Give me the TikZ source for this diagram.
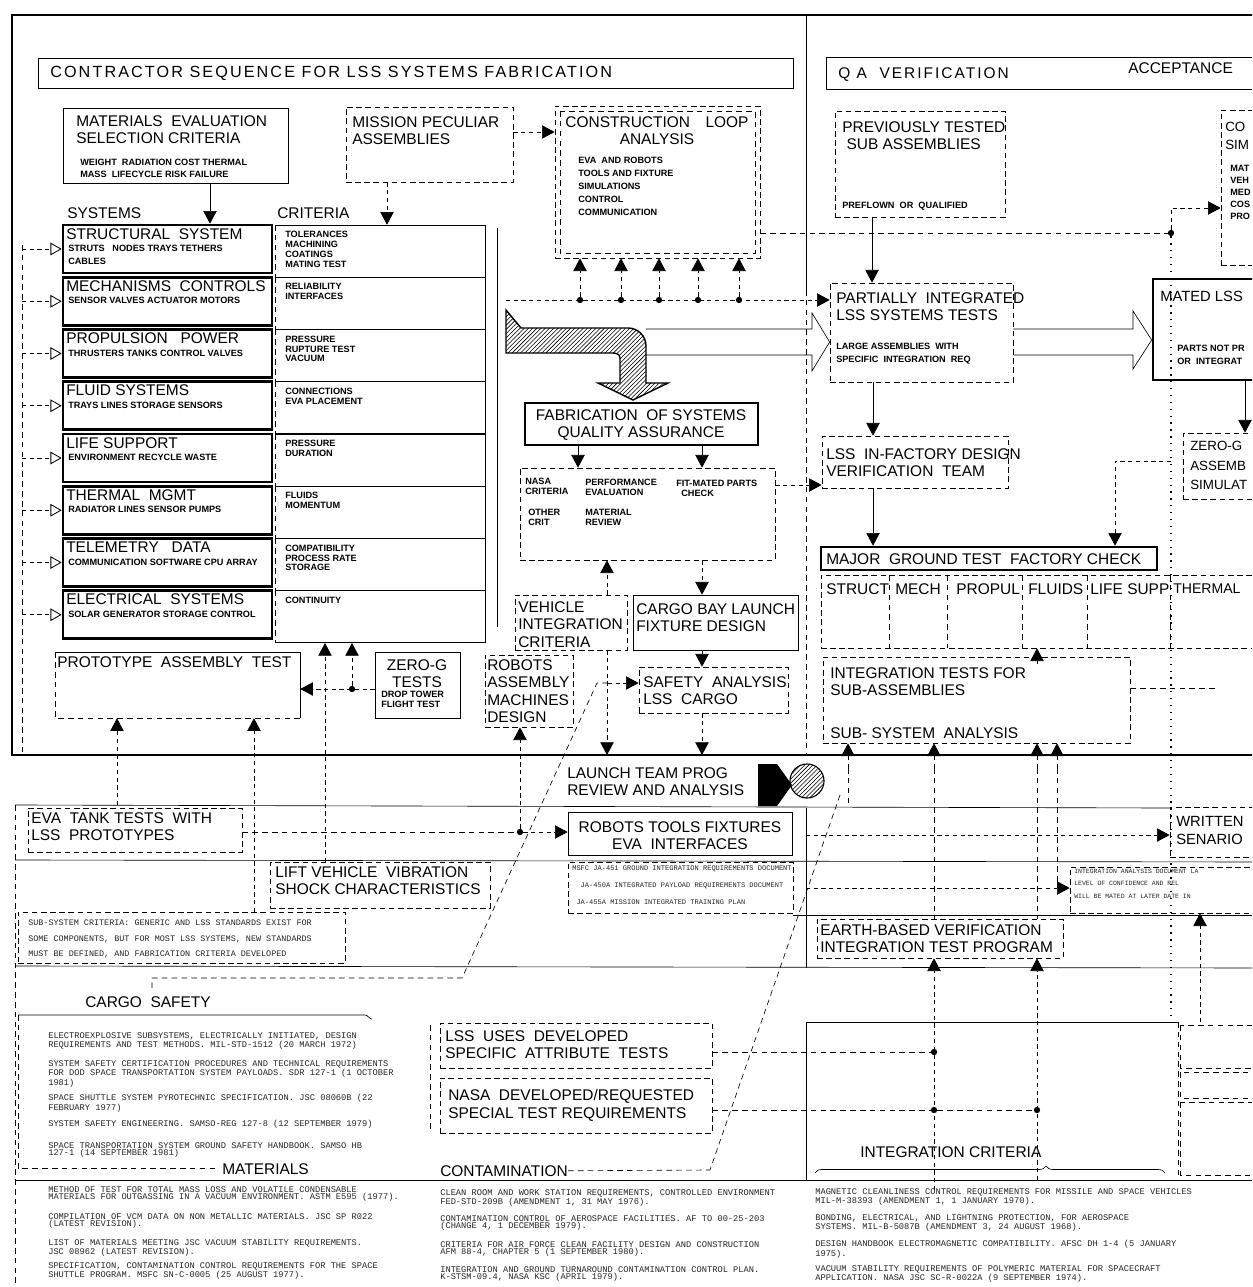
\documentclass[tikz,border=0pt]{standalone}
\usepackage{fontspec}
\setmainfont{Liberation Sans}
\setmonofont{Liberation Mono}
\newfontfamily\widefont[LetterSpace=13]{Liberation Sans}
\usetikzlibrary{arrows.meta,fit,patterns,decorations.pathreplacing,positioning}

\newcommand{\bigfont}{\fontsize{11}{12.5}\selectfont}
\newcommand{\smallfont}{\fontsize{6.5}{7.3}\selectfont\bfseries}
\newcommand{\reffont}{\ttfamily\fontsize{6.2}{5}\selectfont}
% box from two corners, as a named node
\newcommand{\rbox}[6]{%
  \coordinate (#2-a) at (#3,#4);
  \coordinate (#2-b) at (#5,#6);
  \node[#1, fit=(#2-a)(#2-b), inner sep=0pt] (#2) {};}

\tikzset{
  frameline/.style={line width=2pt},
  thinline/.style={line width=0.45pt},
  dashline/.style={line width=0.45pt, dash pattern=on 4pt off 3pt},
  dotline/.style={line width=0.9pt, dash pattern=on 0.9pt off 4pt},
  nobox/.style={},
  plainbox/.style={draw, line width=0.5pt},
  dashbox/.style={draw, line width=0.5pt, dash pattern=on 4pt off 2.5pt},
  heavybox/.style={draw, line width=1.9pt},
  arr/.style={-{Triangle[length=9pt,width=9.5pt]}, line width=0.5pt},
  darr/.style={arr, dash pattern=on 3pt off 2.5pt},
  oarr/.style={-{Triangle[open,length=8pt,width=9pt,line width=0.6pt]}, line width=0.5pt, dash pattern=on 3pt off 2.5pt},
  big/.style={font=\bigfont, inner sep=0pt, anchor=north west, align=left},
  bigc/.style={big, anchor=north, align=center},
  sml/.style={font=\smallfont, inner sep=0pt, anchor=north west, align=left},
  reftxt/.style={font=\reffont, inner sep=0pt, anchor=north west, align=left, text=black!85},
  jdot/.style={circle, fill, inner sep=0pt, minimum size=4.5pt},
}

\begin{document}
\begin{tikzpicture}[x=0.025cm,y=-0.025cm]
\fill[white] (0,0) rectangle (1252,1287);
\useasboundingbox (0,0) rectangle (1252,1287);
\clip (0,0) rectangle (1252,1287);

% frame of the upper panel
\draw[frameline] (12,15) -- (1262,15);
\draw[frameline] (12,14) -- (12,755) -- (1262,755);
\draw[thinline] (806,15) -- (806,290);
\draw[dashline] (806,290) -- (806,755);

% headers
\rbox{plainbox}{hdrL}{38}{58}{793}{88}
\node[big, font=\widefont\fontsize{11.5}{12.5}\selectfont] (hdrLT) at (50,66) {CONTRACTOR SEQUENCE FOR LSS SYSTEMS FABRICATION};
\rbox{plainbox}{hdrR}{826}{57}{1262}{89}
\node[big, font=\widefont\fontsize{11}{12.5}\selectfont] (hdrRT) at (838,67) {Q A\ \ VERIFICATION};
\node[big] (accT) at (1128,62) {ACCEPTANCE};

% materials and mission boxes
\rbox{plainbox}{matbox}{63}{108}{288}{183}
\node[big] (matT) at (76,115) {MATERIALS\ \ EVALUATION\\SELECTION CRITERIA};
\node[sml, font=\fontsize{6.5}{8.5}\selectfont\bfseries] (matS) at (80,159) {WEIGHT\ \ RADIATION COST THERMAL\\MASS\ \ LIFECYCLE RISK FAILURE};
\rbox{dashbox}{misbox}{346}{107}{513}{182}
\node[big] (misT) at (352,116) {MISSION PECULIAR\\ASSEMBLIES};

% construction loop
\rbox{dashbox}{loopbox}{555}{106}{760}{258}
\draw[dashline] (560,111) rectangle (755,253);
\node[bigc] (loopT) at (657,116) {CONSTRUCTION\quad LOOP\\ANALYSIS};
\node[sml, font=\fontsize{6.5}{9.2}\selectfont\bfseries] (loopS) at (578,157) {EVA\ \ AND ROBOTS\\TOOLS AND FIXTURE\\SIMULATIONS\\CONTROL\\COMMUNICATION};
\draw[darr] (misbox.east |- 0,132) -- (loopbox.west |- 0,132);
\coordinate (loopfeed) at (506,300);
\foreach \xx in {580,621,659,698,739} {
  \node[jdot] (ld\xx) at (\xx,300) {};
  \draw[darr] (ld\xx) -- (loopbox.south -| ld\xx);
}

% systems and criteria
\node[big] (sysH) at (67,207) {SYSTEMS};
\node[big] (critH) at (277,207) {CRITERIA};
\foreach \i/\ttl/\sub/\crit in {
  1/{STRUCTURAL\ \ SYSTEM}/{STRUTS\ \ \ NODES TRAYS TETHERS\\CABLES}/{TOLERANCES\\MACHINING\\COATINGS\\MATING TEST},
  2/{MECHANISMS\ \ CONTROLS}/{SENSOR VALVES ACTUATOR MOTORS}/{RELIABILITY\\INTERFACES},
  3/{PROPULSION\ \ \ POWER}/{THRUSTERS TANKS CONTROL VALVES}/{PRESSURE\\RUPTURE TEST\\VACUUM},
  4/{FLUID SYSTEMS}/{TRAYS LINES STORAGE SENSORS}/{CONNECTIONS\\EVA PLACEMENT},
  5/{LIFE SUPPORT}/{ENVIRONMENT RECYCLE WASTE}/{PRESSURE\\DURATION},
  6/{THERMAL\ \ MGMT}/{RADIATOR LINES SENSOR PUMPS}/{FLUIDS\\MOMENTUM},
  7/{TELEMETRY\ \ \ DATA}/{COMMUNICATION SOFTWARE CPU ARRAY}/{COMPATIBILITY\\PROCESS RATE\\STORAGE},
  8/{ELECTRICAL\ \ SYSTEMS}/{SOLAR GENERATOR STORAGE CONTROL}/{CONTINUITY}}
{
  \pgfmathsetmacro\yt{225+52.25*(\i-1)}
  \pgfmathsetmacro\yb{\yt+48}
  \pgfmathsetmacro\yc{\yt+52}
  \pgfmathsetmacro\ya{\yt+24}
  \rbox{heavybox}{sys\i}{63}{\yt}{272}{\yb}
  \node[big] (sysT\i) at (66,\yt+3) {\ttl};
  \node[sml, font=\fontsize{6.5}{9}\selectfont\bfseries] (sysS\i) at (68,\yt+20) {\sub};
  \rbox{nobox}{crit\i}{275}{\yt}{485}{\yc}
  \draw[thinline] (275,\yt) -- (485,\yt) -- (485,\yc) -- (275,\yc);
  \draw[dashline] (275,\yt) -- (275,\yc);
  \node[sml, font=\fontsize{6.5}{7}\selectfont\bfseries] (critT\i) at (285,\yt+6) {\crit};
  \coordinate (feed\i) at (22,\ya);
  \draw[oarr] (feed\i) -- (sys\i.west |- feed\i);
}
\draw[dashline] (22,245) -- (22,752);
\draw[thinline] (497,228) -- (497,627);
\draw[arr] (matbox.south -| 210,0) -- (sys1.north -| 210,0);
\draw[darr] (misbox.south -| 387,0) -- (crit1.north -| 387,0);

% prototype and zero-g tests
\rbox{nobox}{protobox}{55}{652}{300}{718}
\draw[thinline] (55,652) -- (300,652) -- (300,718);
\draw[dashline] (300,718) -- (55,718) -- (55,652);
\node[big] (protoT) at (57,656) {PROTOTYPE\ \ ASSEMBLY\ \ TEST};
\rbox{plainbox}{zgbox}{375}{652}{460}{718}
\node[bigc] (zgT) at (417,659) {ZERO-G\\TESTS};
\node[sml] (zgS) at (381,691) {DROP TOWER\\FLIGHT TEST};
\node[jdot] (zgdot) at (352,689) {};
\draw[darr] (zgbox.west |- zgdot) -- (protobox.east |- zgdot);
\draw[darr] (zgdot) -- (crit8.south -| zgdot);
\coordinate (liftup) at (325,862);
\draw[darr] (liftup) -- (crit8.south -| liftup);
\coordinate (evaup) at (117,805);
\draw[darr] (evaup) -- (protobox.south -| evaup);
\coordinate (subup) at (254,912);
\draw[darr] (subup) -- (protobox.south -| subup);

% hatched arrow
\draw[line width=1pt, pattern=north east lines] (506,310) -- (521,328) -- (628,328) to[out=0,in=90] (646,346) -- (646,383) -- (668,383) -- (633,400) -- (598,383) -- (620,383) -- (620,358) to[out=90,in=0] (613,353) -- (506,353) -- cycle;

% fabrication
\rbox{heavybox}{fabbox}{525}{403}{758}{445}
\node[bigc] (fabT) at (641,409) {FABRICATION\ \ OF SYSTEMS\\QUALITY ASSURANCE};
\rbox{dashbox}{fabsub}{520}{468}{775}{560}
\draw[arr] (fabbox.south -| 578,0) -- (fabsub.north -| 578,0);
\draw[arr] (fabbox.south -| 702,0) -- (fabsub.north -| 702,0);
\node[sml] (fabA) at (525,478) {NASA\\CRITERIA};
\node[sml] (fabB) at (585,479) {PERFORMANCE\\EVALUATION};
\node[sml] (fabC) at (676,480) {FIT-MATED PARTS\\\ \ CHECK};
\node[sml] (fabD) at (528,509) {OTHER\\CRIT};
\node[sml] (fabE) at (585,509) {MATERIAL\\REVIEW};

\rbox{dashbox}{vehbox}{515}{595}{627}{650}
\node[big] (vehT) at (518,601) {VEHICLE\\INTEGRATION\\CRITERIA};
\rbox{plainbox}{cbbox}{633}{595}{798}{650}
\node[big] (cbT) at (636,603) {CARGO BAY LAUNCH\\FIXTURE DESIGN};
\rbox{dashbox}{safbox}{639}{667}{788}{713}
\node[big] (safT) at (643,676) {SAFETY\ \ ANALYSIS\\LSS\ \ CARGO};
\rbox{dashbox}{robbox}{485}{655}{573}{727}
\node[big] (robT) at (487,659) {ROBOTS\\ASSEMBLY\\MACHINES\\DESIGN};
\draw[darr] (vehbox.north -| 607,0) -- (fabsub.south -| 607,0);
\draw[darr] (fabsub.south -| 702,0) -- (cbbox.north -| 702,0);
\draw[arr] (cbbox.south -| 702,0) -- (safbox.north -| 702,0);
\coordinate (launchL) at (607,755);
\coordinate (launchR) at (702,755);
\draw[darr] (vehbox.south -| launchL) -- (launchL);
\draw[darr] (safbox.south -| launchR) -- (launchR);
\coordinate (safin) at (608,683);
\draw[darr] (safin) -- (safbox.west |- safin);
\coordinate (diagA) at (597,683);
\coordinate (diagB) at (462,978);
\coordinate (cargoK) at (152,978);
\draw[dashline] (safin) -- (diagA) -- (diagB) -- (cargoK) -- ++(0,12);

% QA verification side
\rbox{dashbox}{prevbox}{835}{111}{1005}{217}
\node[big] (prevT) at (842,121) {PREVIOUSLY TESTED\\\ SUB ASSEMBLIES};
\node[sml] (prevS) at (842,202) {PREFLOWN\ \ OR\ \ QUALIFIED};
\rbox{dashbox}{partbox}{830}{283}{1013}{382}
\node[big] (partT) at (836,292) {PARTIALLY\ \ INTEGRATED\\LSS SYSTEMS TESTS};
\node[sml, font=\fontsize{6.5}{9.2}\selectfont\bfseries] (partS) at (836,343) {LARGE ASSEMBLIES\ \ WITH\\SPECIFIC\ \ INTEGRATION\ \ REQ};
\draw[arr] (prevbox.south -| 872,0) -- (partbox.north -| 872,0);
\draw[darr] (loopfeed) -- (partbox.west |- loopfeed);
\rbox{dashbox}{cobox}{1221}{110}{1265}{265}
\node[big, font=\fontsize{9.5}{12.5}\selectfont] (coT) at (1225,122) {CO\\SIM};
\node[sml, font=\fontsize{6.5}{8.5}\selectfont\bfseries] (coS) at (1230,165) {MAT\\VEH\\MED\\COS\\PRO};
\node[jdot] (codot) at (1171,233) {};
\draw[dashline] (loopbox.east |- codot) -- (codot);
\draw[darr] (codot) -- (1171,208) -- (cobox.west |- 0,208);
\draw[dotline] (codot) -- (1171,1020);
\rbox{heavybox}{mated}{1153}{279}{1265}{380}
\node[big, font=\fontsize{10.5}{12}\selectfont] (matedT) at (1160,291) {MATED LSS};
\node[sml, font=\fontsize{6.5}{9}\selectfont\bfseries] (matedS) at (1177,345) {PARTS NOT PR\\OR\ \ INTEGRAT};
% outline arrows
\draw[thinline] (646,329) -- (812,329) -- (812,313) -- (partbox.west |- 0,342) -- (812,371) -- (812,355) -- (646,355);
\draw[thinline] (partbox.east |- 0,329) -- (1133,329) -- (1133,311) -- (mated.west |- 0,340) -- (1133,369) -- (1133,355) -- (partbox.east |- 0,355);

\rbox{dashbox}{zgabox}{1183}{433}{1265}{499}
\node[big, font=\fontsize{9.5}{14}\selectfont] (zgaT) at (1190,441) {ZERO-G\\ASSEMB\\SIMULAT};
\draw[arr] (mated.south -| 1245,0) -- (zgabox.north -| 1245,0);
\rbox{dashbox}{facbox}{822}{436}{1008}{488}
\node[big] (facT) at (826,448) {LSS\ \ IN-FACTORY DESIGN\\VERIFICATION\ \ TEAM};
\rbox{heavybox}{major}{821}{547}{1157}{570}
\node[big] (majorT) at (826,553) {MAJOR\ \ GROUND TEST\ \ FACTORY CHECK};
\draw[arr] (partbox.south -| 873,0) -- (facbox.north -| 873,0);
\draw[arr] (facbox.south -| 873,0) -- (major.north -| 873,0);
\draw[darr] (fabsub.east |- 0,485) -- (facbox.west |- 0,485);
\coordinate (majfeed) at (1171,461);
\draw[darr] (majfeed) -- (1115,461) -- (major.north -| 1115,0);

% sub-system columns
\rbox{dashbox}{cols}{821}{575}{1265}{648}
\foreach \xx in {889,947,1022,1087,1170} \draw[dashline] (\xx,575) -- (\xx,648);
\foreach \xx/\lab in {826/STRUCT, 895/MECH, 956/PROPUL, 1028/FLUIDS, 1090/LIFE SUPP}
  \node[big] (col\xx) at (\xx,583) {\lab};
\node[big, font=\fontsize{10}{12}\selectfont] (col1173) at (1173,584) {THERMAL};
\rbox{dashbox}{itbox}{823}{657}{1130}{743}
\node[big] (itT) at (830,667) {INTEGRATION TESTS FOR\\SUB-ASSEMBLIES};
\node[big] (itS) at (830,727) {SUB-\ SYSTEM\ \ ANALYSIS};
\coordinate (itup) at (1037,664);
\draw[arr] (itup) -- (cols.south -| itup);
\draw[dashline] (itbox.east |- 0,688) -- (1215,688);
\foreach \xx in {848,934,1037,1057} {
  \coordinate (fu\xx) at (\xx,768);
  \draw[darr] (fu\xx) -- (itbox.south -| fu\xx);
}

% launch team
\node[big] (launchT) at (567,767) {LAUNCH TEAM PROG\\REVIEW AND ANALYSIS};
\fill (758,764) -- (777,764) -- (792,785) -- (777,806) -- (758,806) -- cycle;
\node[circle, draw, line width=0.8pt, pattern=north east lines, minimum size=0.85cm, inner sep=0pt] (hcirc) at (807,781) {};

% lower grid
\draw[thinline] (15,805) -- (1170,808);
\draw[thinline] (15,860) -- (1262,862);
\draw[thinline] (793,915) -- (1262,915);
\draw[thinline] (15,966) -- (1262,968);
\draw[dashline] (15,805) -- (15,1287);
\draw[thinline] (806,808) -- (806,968);
\draw[thinline] (806,1022) -- (806,1180);
\draw[thinline] (806,1022) -- (1178,1022);
\draw[dashline] (1178,1022) -- (1178,1180);
\draw[dashline] (1180,1025) rectangle (1262,1068);
\draw[dashline] (1180,1072) rectangle (1262,1098);
\draw[dashline] (1180,1102) rectangle (1262,1175);
\draw[dashline] (848,768) -- (848,805);
\draw[dashline] (934,768) -- (934,919);
\draw[dashline] (1037,768) -- (1037,919);
\draw[dashline] (1057,768) -- (1057,888);

\rbox{dashbox}{evabox}{28}{808}{242}{852}
\node[big] (evaT) at (31,812) {EVA\ \ TANK TESTS\ \ WITH\\LSS\ \ PROTOTYPES};
\rbox{plainbox}{rtbox}{568}{812}{792}{855}
\node[bigc] (rtT) at (680,821) {ROBOTS TOOLS FIXTURES\\EVA\ \ INTERFACES};
\node[jdot] (evadot) at (520,832) {};
\draw[dashline] (evabox.east |- evadot) -- (evadot);
\draw[darr] (evadot) -- (rtbox.west |- evadot);
\draw[darr] (evadot) -- (robbox.south -| evadot);
\rbox{dashbox}{liftbox}{270}{862}{490}{908}
\node[big] (liftT) at (275,866) {LIFT VEHICLE\ \ VIBRATION\\SHOCK CHARACTERISTICS};
\rbox{dashbox}{msfcbox}{568}{862}{793}{913}
\node[reftxt, font=\ttfamily\fontsize{5}{12}\selectfont] (msfcT) at (572,866) {MSFC JA-451 GROUND INTEGRATION REQUIREMENTS DOCUMENT\\\ \ JA-450A INTEGRATED PAYLOAD REQUIREMENTS DOCUMENT\\\ JA-455A MISSION INTEGRATED TRAINING PLAN};
\rbox{dashbox}{subbox}{18}{912}{345}{963}
\node[reftxt, font=\ttfamily\fontsize{6}{11}\selectfont] (subT) at (28,920) {SUB-SYSTEM CRITERIA: GENERIC AND LSS STANDARDS EXIST FOR\\SOME COMPONENTS, BUT FOR MOST LSS SYSTEMS, NEW STANDARDS\\MUST BE DEFINED, AND FABRICATION CRITERIA DEVELOPED};

\rbox{dashbox}{wrbox}{1170}{807}{1265}{857}
\node[big, font=\fontsize{10.5}{12.5}\selectfont] (wrT) at (1176,816) {WRITTEN\\SENARIO};
\rbox{dashbox}{anbox}{1070}{867}{1265}{913}
\node[reftxt, font=\ttfamily\fontsize{4.6}{8.8}\selectfont] (anT) at (1074,869) {INTEGRATION ANALYSIS DOCUMENT LA\\LEVEL OF CONFIDENCE AND REL\\WILL BE MATED AT LATER DATE IN};
\coordinate (wrfeed) at (806,835);
\draw[darr] (wrfeed) -- (wrbox.west |- wrfeed);
\coordinate (anfeed) at (806,888);
\draw[darr] (anfeed) -- (anbox.west |- anfeed);
\coordinate (anup) at (1200,1022);
\draw[darr] (anup) -- (anbox.south -| anup);

\rbox{dashbox}{earthbox}{817}{919}{1063}{958}
\node[big] (earthT) at (820,924) {EARTH-BASED VERIFICATION\\INTEGRATION TEST PROGRAM};
\coordinate (eu1) at (934,1190);
\draw[darr] (eu1) -- (earthbox.south -| eu1);
\coordinate (eu2) at (1037,1180);
\draw[darr] (eu2) -- (earthbox.south -| eu2);

\rbox{dashbox}{usebox}{440}{1023}{712}{1068}
\node[big] (useT) at (445,1030) {LSS\ \ USES\ \ DEVELOPED\\SPECIFIC\ \ ATTRIBUTE\ \ TESTS};
\rbox{dashbox}{nasabox}{440}{1078}{712}{1133}
\node[big] (nasaT) at (448,1089) {NASA\ \ DEVELOPED/REQUESTED\\SPECIAL TEST REQUIREMENTS};
\node[jdot] (icd1) at (934,1052) {};
\node[jdot] (icd2) at (934,1110) {};
\node[jdot] (icd3) at (1037,1110) {};
\draw[dashline] (usebox.east |- icd1) -- (icd1);
\draw[dashline] (nasabox.east |- icd2) -- (icd2) -- (icd3);
\coordinate (diagC) at (840,795);
\coordinate (diagD) at (710,1170);
\draw[dashline] (diagC) -- (diagD);

% reference lists
\node[big] (cargoT) at (85,996) {CARGO\ \ SAFETY};
\rbox{nobox}{cargobox}{18}{1015}{430}{1168}
\draw[thinline] (18,1015) -- (365,1015) to[out=0,in=180] (372,1019);
\draw[dashline] (18,1015) -- (18,1168) -- (215,1168);
\draw[dashline] (430,1025) -- (430,1130);
\node[reftxt] (cs1) at (48,1032) {ELECTROEXPLOSIVE SUBSYSTEMS, ELECTRICALLY INITIATED, DESIGN\\REQUIREMENTS AND TEST METHODS. MIL-STD-1512 (20 MARCH 1972)};
\node[reftxt] (cs2) at (48,1060) {SYSTEM SAFETY CERTIFICATION PROCEDURES AND TECHNICAL REQUIREMENTS\\FOR DOD SPACE TRANSPORTATION SYSTEM PAYLOADS. SDR 127-1 (1 OCTOBER\\1981)};
\node[reftxt] (cs3) at (48,1094) {SPACE SHUTTLE SYSTEM PYROTECHNIC SPECIFICATION. JSC 08060B (22\\FEBRUARY 1977)};
\node[reftxt] (cs4) at (48,1120) {SYSTEM SAFETY ENGINEERING. SAMSO-REG 127-8 (12 SEPTEMBER 1979)};
\node[reftxt] (cs5) at (48,1142) {SPACE TRANSPORTATION SYSTEM GROUND SAFETY HANDBOOK. SAMSO HB\\127-1 (14 SEPTEMBER 1981)};

\node[big] (matlT) at (222,1163) {MATERIALS};
\draw[thinline] (15,1180) -- (1262,1180);
\node[reftxt] (ml1) at (48,1186) {METHOD OF TEST FOR TOTAL MASS LOSS AND VOLATILE CONDENSABLE\\MATERIALS FOR OUTGASSING IN A VACUUM ENVIRONMENT. ASTM E595 (1977).};
\node[reftxt] (ml2) at (48,1213) {COMPILATION OF VCM DATA ON NON METALLIC MATERIALS. JSC SP R022\\(LATEST REVISION).};
\node[reftxt] (ml3) at (48,1239) {LIST OF MATERIALS MEETING JSC VACUUM STABILITY REQUIREMENTS.\\JSC 08962 (LATEST REVISION).};
\node[reftxt] (ml4) at (48,1262) {SPECIFICATION, CONTAMINATION CONTROL REQUIREMENTS FOR THE SPACE\\SHUTTLE PROGRAM. MSFC SN-C-0005 (25 AUGUST 1977).};

\node[big] (contT) at (440,1165) {CONTAMINATION};
\draw[dashline] (contT.east) -- (diagD);
\node[reftxt] (ct1) at (440,1189) {CLEAN ROOM AND WORK STATION REQUIREMENTS, CONTROLLED ENVIRONMENT\\FED-STD-209B (AMENDMENT 1, 31 MAY 1976).};
\node[reftxt] (ct2) at (440,1215) {CONTAMINATION CONTROL OF AEROSPACE FACILITIES. AF TO 00-25-203\\(CHANGE 4, 1 DECEMBER 1979).};
\node[reftxt] (ct3) at (440,1241) {CRITERIA FOR AIR FORCE CLEAN FACILITY DESIGN AND CONSTRUCTION\\AFM 88-4, CHAPTER 5 (1 SEPTEMBER 1980).};
\node[reftxt] (ct4) at (440,1266) {INTEGRATION AND GROUND TURNAROUND CONTAMINATION CONTROL PLAN.\\K-STSM-09.4, NASA KSC (APRIL 1979).};

\node[big] (icT) at (860,1146) {INTEGRATION CRITERIA};
\draw[thinline, decorate, decoration={brace, amplitude=5pt, aspect=0.66}] (815,1173) -- (1165,1173);
\node[reftxt] (ic1) at (815,1188) {MAGNETIC CLEANLINESS CONTROL REQUIREMENTS FOR MISSILE AND SPACE VEHICLES\\MIL-M-38393 (AMENDMENT 1, 1 JANUARY 1970).};
\node[reftxt] (ic2) at (815,1214) {BONDING, ELECTRICAL, AND LIGHTNING PROTECTION, FOR AEROSPACE\\SYSTEMS. MIL-B-5087B (AMENDMENT 3, 24 AUGUST 1968).};
\node[reftxt] (ic3) at (815,1240) {DESIGN HANDBOOK ELECTROMAGNETIC COMPATIBILITY. AFSC DH 1-4 (5 JANUARY\\1975).};
\node[reftxt] (ic4) at (815,1265) {VACUUM STABILITY REQUIREMENTS OF POLYMERIC MATERIAL FOR SPACECRAFT\\APPLICATION. NASA JSC SC-R-0022A (9 SEPTEMBER 1974).};
\end{tikzpicture}
\end{document}
